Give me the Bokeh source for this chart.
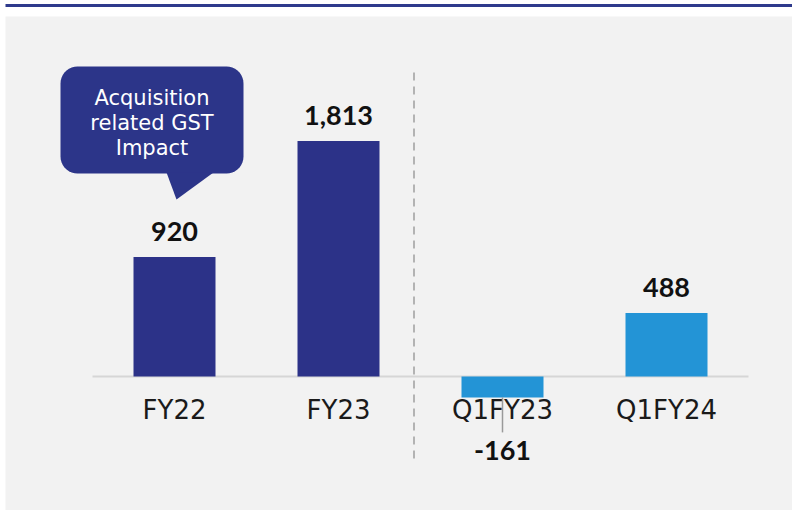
import math
from bokeh.plotting import figure
from bokeh.models import Range1d, BoxAnnotation, ColumnDataSource
from bokeh.core.properties import value
from bokeh.embed import file_html
from bokeh.resources import INLINE

# ---- data ----
categories = ["FY22", "FY23", "Q1FY23", "Q1FY24"]
values = [920, 1813, -161, 488]
value_labels = ["920", "1,813", "-161", "488"]
bar_colors = ["#2c3288", "#2c3288", "#2394d6", "#2394d6"]
callout_lines = ["Acquisition", "related GST", "Impact"]

# ---- layout helpers (page pixel -> data) ----
W, H = 792, 510
X0, STEP = 174.0, 164.0        # page x of first bar centre, spacing
BASE, S = 376.0, 7.7           # page y of zero line, units per pixel


def X(px):
    return (px - X0) / STEP


def Y(py):
    return (BASE - py) * S


p = figure(width=W, height=H, output_backend="svg", toolbar_location=None,
           x_range=Range1d(X(0), X(W)), y_range=Range1d(Y(H), Y(0)),
           min_border=0, min_border_left=0, min_border_right=0,
           min_border_top=0, min_border_bottom=0,
           x_axis_location=None, y_axis_location=None)
p.grid.visible = False
p.outline_line_color = None
p.background_fill_color = "white"
p.border_fill_color = "white"

# grey panel and navy top rule
p.add_layout(BoxAnnotation(left=X(5), top=Y(16), fill_color="#f2f2f2", fill_alpha=1,
                           line_color=None, level="underlay"))
p.add_layout(BoxAnnotation(left=X(5), bottom=Y(6.5), top=Y(3.5), fill_color="#2e3a8c", fill_alpha=1,
                           line_color=None, level="underlay"))

xs = list(range(len(categories)))
src = ColumnDataSource(dict(x=xs, cat=categories, val=values, lab=value_labels, color=bar_colors))

# baseline
p.segment(x0=[X(92)], y0=[0], x1=[X(748)], y1=[0], line_color="#d6d6d6", line_width=2)

# bars
p.vbar(x="x", top="val", bottom=0, width=0.5, fill_color="color", line_color=None, source=src)

# dashed separator
p.segment(x0=[X(413.5)], y0=[Y(72)], x1=[X(413.5)], y1=[Y(462)],
          line_color="#b3b3b3", line_width=2, line_dash="8 6")

# category labels
p.text(x="x", y=0, text="cat", source=src, text_align="center", text_baseline="alphabetic",
       y_offset=33, text_font=value("DejaVu Sans"), text_font_size="26px", text_color="#1a1a1a")

# value labels (positive above bar, negative below the category label)
pi = [i for i in range(4) if values[i] >= 0]
ni = [i for i in range(4) if values[i] < 0]
pos = ColumnDataSource(dict(x=[xs[i] for i in pi], y=[values[i] for i in pi], t=[value_labels[i] for i in pi]))
neg = ColumnDataSource(dict(x=[xs[i] for i in ni], y=[values[i] for i in ni], t=[value_labels[i] for i in ni]))
p.text(x="x", y="y", text="t", source=pos, text_align="center", text_baseline="alphabetic",
       y_offset=-26, text_font=value("Lato"), text_font_size="27px", text_font_style="bold",
       text_color="#111111")
p.text(x="x", y="y", text="t", source=neg, text_align="center", text_baseline="alphabetic",
       y_offset=53, text_font=value("Lato"), text_font_size="27px", text_font_style="bold",
       text_color="#111111")
# leader line for negative label
for i in ni:
    p.segment(x0=[xs[i]], y0=[values[i]], x1=[xs[i]], y1=[values[i] - 35 * S],
              line_color="#9a9a9a", line_width=1.5)

# callout bubble (rounded rectangle + tail)
L, R, T, B, rad = 60, 243, 66, 173, 17
pts = []
for cx, cy, a0 in [(R - rad, T + rad, -90), (R - rad, B - rad, 0), (L + rad, B - rad, 90), (L + rad, T + rad, 180)]:
    for k in range(0, 91, 10):
        a = math.radians(a0 + k)
        pts.append((cx + rad * math.cos(a), cy + rad * math.sin(a)))
p.patch([X(a) for a, b in pts], [Y(b) for a, b in pts], fill_color="#2c3589", line_color=None)
p.patch([X(166), X(213), X(176)], [Y(172), Y(172), Y(199)], fill_color="#2c3589", line_color=None)
p.text(x=[X(151.5)] * 3, y=[Y(97), Y(122), Y(147)], text=callout_lines, text_align="center",
       text_baseline="alphabetic", text_font=value("DejaVu Sans"), text_font_size="21px", text_color="white")

open("out.html", "w").write(file_html(p, INLINE))
